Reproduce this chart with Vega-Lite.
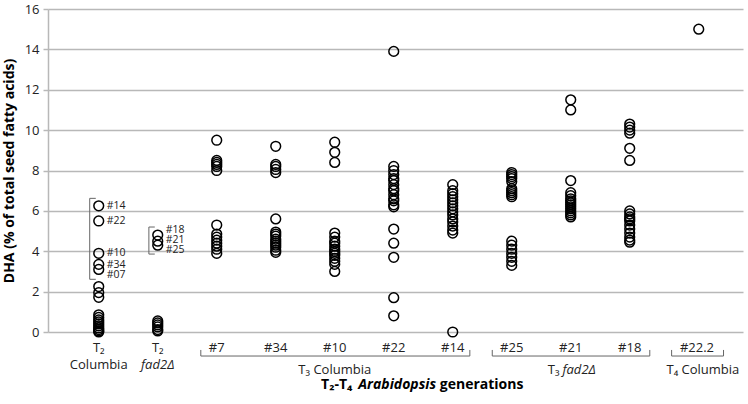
{
  "$schema": "https://vega.github.io/schema/vega-lite/v6.json",
  "width": 695,
  "height": 323,
  "autosize": {"type": "none"},
  "padding": {"left": 48, "top": 9, "right": 5, "bottom": 72},
  "background": "white",
  "config": {
    "view": {"stroke": null},
    "font": "Open Sans",
    "axisY": {"titleFontSize": 14, "titleFontWeight": "bold", "titleColor": "black", "titlePadding": 8,
      "labelFontSize": 13, "labelColor": "#222", "labelPadding": 4,
      "grid": true, "gridColor": "#b8b8b8", "gridWidth": 1.5,
      "domain": true, "domainColor": "#b8b8b8", "domainWidth": 1.5,
      "ticks": true, "tickColor": "#b8b8b8", "tickWidth": 1.5, "tickSize": 5}
  },
  "datasets": {
    "pts": [
      {"pos":1,"dha":6.25},{"pos":1,"dha":5.5},{"pos":1,"dha":3.9},{"pos":1,"dha":3.35},{"pos":1,"dha":3.1},{"pos":1,"dha":2.25},{"pos":1,"dha":1.95},{"pos":1,"dha":1.72},{"pos":1,"dha":0.85},{"pos":1,"dha":0.72},{"pos":1,"dha":0.6},{"pos":1,"dha":0.5},{"pos":1,"dha":0.4},{"pos":1,"dha":0.3},{"pos":1,"dha":0.2},{"pos":1,"dha":0.12},{"pos":1,"dha":0.05},{"pos":1,"dha":0.0},
      {"pos":2,"dha":4.8},{"pos":2,"dha":4.5},{"pos":2,"dha":4.3},{"pos":2,"dha":0.55},{"pos":2,"dha":0.45},{"pos":2,"dha":0.35},{"pos":2,"dha":0.25},{"pos":2,"dha":0.12},{"pos":2,"dha":0.05},
      {"pos":3,"dha":9.5},{"pos":3,"dha":8.5},{"pos":3,"dha":8.4},{"pos":3,"dha":8.3},{"pos":3,"dha":8.2},{"pos":3,"dha":8.0},{"pos":3,"dha":5.3},{"pos":3,"dha":4.85},{"pos":3,"dha":4.7},{"pos":3,"dha":4.55},{"pos":3,"dha":4.4},{"pos":3,"dha":4.25},{"pos":3,"dha":4.1},{"pos":3,"dha":3.9},
      {"pos":4,"dha":9.2},{"pos":4,"dha":8.3},{"pos":4,"dha":8.2},{"pos":4,"dha":8.05},{"pos":4,"dha":7.9},{"pos":4,"dha":5.6},{"pos":4,"dha":4.95},{"pos":4,"dha":4.85},{"pos":4,"dha":4.75},{"pos":4,"dha":4.6},{"pos":4,"dha":4.5},{"pos":4,"dha":4.4},{"pos":4,"dha":4.3},{"pos":4,"dha":4.2},{"pos":4,"dha":4.05},{"pos":4,"dha":3.95},
      {"pos":5,"dha":9.4},{"pos":5,"dha":8.9},{"pos":5,"dha":8.4},{"pos":5,"dha":4.9},{"pos":5,"dha":4.7},{"pos":5,"dha":4.5},{"pos":5,"dha":4.4},{"pos":5,"dha":4.25},{"pos":5,"dha":4.1},{"pos":5,"dha":4.0},{"pos":5,"dha":3.9},{"pos":5,"dha":3.8},{"pos":5,"dha":3.65},{"pos":5,"dha":3.5},{"pos":5,"dha":3.35},{"pos":5,"dha":3.0},
      {"pos":6,"dha":13.9},{"pos":6,"dha":8.2},{"pos":6,"dha":8.0},{"pos":6,"dha":7.8},{"pos":6,"dha":7.6},{"pos":6,"dha":7.5},{"pos":6,"dha":7.3},{"pos":6,"dha":7.1},{"pos":6,"dha":7.0},{"pos":6,"dha":6.8},{"pos":6,"dha":6.6},{"pos":6,"dha":6.5},{"pos":6,"dha":6.3},{"pos":6,"dha":6.2},{"pos":6,"dha":5.1},{"pos":6,"dha":4.4},{"pos":6,"dha":3.7},{"pos":6,"dha":1.7},{"pos":6,"dha":0.8},
      {"pos":7,"dha":7.3},{"pos":7,"dha":7.0},{"pos":7,"dha":6.85},{"pos":7,"dha":6.7},{"pos":7,"dha":6.55},{"pos":7,"dha":6.4},{"pos":7,"dha":6.25},{"pos":7,"dha":6.1},{"pos":7,"dha":5.95},{"pos":7,"dha":5.8},{"pos":7,"dha":5.6},{"pos":7,"dha":5.45},{"pos":7,"dha":5.25},{"pos":7,"dha":5.05},{"pos":7,"dha":4.9},{"pos":7,"dha":0.0},
      {"pos":8,"dha":7.9},{"pos":8,"dha":7.8},{"pos":8,"dha":7.7},{"pos":8,"dha":7.6},{"pos":8,"dha":7.45},{"pos":8,"dha":7.1},{"pos":8,"dha":7.0},{"pos":8,"dha":6.9},{"pos":8,"dha":6.8},{"pos":8,"dha":6.7},{"pos":8,"dha":4.5},{"pos":8,"dha":4.3},{"pos":8,"dha":4.1},{"pos":8,"dha":3.9},{"pos":8,"dha":3.7},{"pos":8,"dha":3.5},{"pos":8,"dha":3.3},
      {"pos":9,"dha":11.5},{"pos":9,"dha":11.0},{"pos":9,"dha":7.5},{"pos":9,"dha":6.9},{"pos":9,"dha":6.75},{"pos":9,"dha":6.6},{"pos":9,"dha":6.5},{"pos":9,"dha":6.4},{"pos":9,"dha":6.3},{"pos":9,"dha":6.2},{"pos":9,"dha":6.1},{"pos":9,"dha":6.0},{"pos":9,"dha":5.9},{"pos":9,"dha":5.8},{"pos":9,"dha":5.7},
      {"pos":10,"dha":10.3},{"pos":10,"dha":10.15},{"pos":10,"dha":10.0},{"pos":10,"dha":9.85},{"pos":10,"dha":9.1},{"pos":10,"dha":8.5},{"pos":10,"dha":6.0},{"pos":10,"dha":5.85},{"pos":10,"dha":5.7},{"pos":10,"dha":5.6},{"pos":10,"dha":5.5},{"pos":10,"dha":5.3},{"pos":10,"dha":5.1},{"pos":10,"dha":4.9},{"pos":10,"dha":4.7},{"pos":10,"dha":4.55},{"pos":10,"dha":4.45},
      {"pos":11.17,"dha":15.0}
    ],
    "inlabels": [
      {"pos":1,"dha":6.24,"t":"#14"},{"pos":1,"dha":5.5,"t":"#22"},{"pos":1,"dha":3.9,"t":"#10"},{"pos":1,"dha":3.34,"t":"#34"},{"pos":1,"dha":2.8,"t":"#07"},
      {"pos":2,"dha":5.06,"t":"#18"},{"pos":2,"dha":4.56,"t":"#21"},{"pos":2,"dha":4.06,"t":"#25"}
    ],
    "inbrackets": [
      {"x":0.847,"xt":0.95,"lo":2.61,"hi":6.62},
      {"x":1.85,"xt":1.95,"lo":3.86,"hi":5.2}
    ],
    "row1": [
      {"pos":1,"t":"T₂"},{"pos":2,"t":"T₂"},{"pos":3,"t":"#7"},{"pos":4,"t":"#34"},{"pos":5,"t":"#10"},{"pos":6,"t":"#22"},{"pos":7,"t":"#14"},{"pos":8,"t":"#25"},{"pos":9,"t":"#21"},{"pos":10,"t":"#18"},{"pos":11.14,"t":"#22.2"}
    ],
    "brackets": [
      {"lo":2.73,"hi":7.29},{"lo":7.67,"hi":10.34},{"lo":10.71,"hi":11.59}
    ],
    "bracketEnds": [
      {"x":2.73},{"x":7.29},{"x":7.67},{"x":10.34},{"x":10.71},{"x":11.59}
    ]
  },
  "layer": [
    {
      "data": {"name": "pts"},
      "mark": {"type": "point", "shape": "circle", "filled": false, "stroke": "black", "strokeWidth": 1.5, "size": 95, "opacity": 1, "clip": false},
      "encoding": {
        "x": {"field": "pos", "type": "quantitative", "scale": {"domain": [0.14, 11.92], "nice": false, "zero": false}, "axis": null},
        "y": {"field": "dha", "type": "quantitative", "scale": {"domain": [0, 16], "nice": false, "zero": false},
          "axis": {"values": [0,2,4,6,8,10,12,14,16], "title": "DHA (% of total seed fatty acids)"}}
      }
    },
    {
      "data": {"name": "inlabels"},
      "mark": {"type": "text", "align": "left", "baseline": "middle", "dx": 8, "fontSize": 10.5, "color": "#222"},
      "encoding": {
        "x": {"field": "pos", "type": "quantitative", "axis": null},
        "y": {"field": "dha", "type": "quantitative"},
        "text": {"field": "t"}
      }
    },
    {
      "data": {"name": "inbrackets"},
      "mark": {"type": "rule", "color": "#666", "strokeWidth": 1},
      "encoding": {
        "x": {"field": "x", "type": "quantitative", "axis": null},
        "y": {"field": "lo", "type": "quantitative"},
        "y2": {"field": "hi"}
      }
    },
    {
      "data": {"name": "inbrackets"},
      "mark": {"type": "rule", "color": "#666", "strokeWidth": 1},
      "encoding": {
        "x": {"field": "x", "type": "quantitative", "axis": null},
        "x2": {"field": "xt"},
        "y": {"field": "lo", "type": "quantitative"}
      }
    },
    {
      "data": {"name": "inbrackets"},
      "mark": {"type": "rule", "color": "#666", "strokeWidth": 1},
      "encoding": {
        "x": {"field": "x", "type": "quantitative", "axis": null},
        "x2": {"field": "xt"},
        "y": {"field": "hi", "type": "quantitative"}
      }
    },
    {
      "data": {"name": "row1"},
      "mark": {"type": "text", "baseline": "middle", "fontSize": 13, "color": "#222", "clip": false},
      "encoding": {
        "x": {"field": "pos", "type": "quantitative", "axis": null},
        "y": {"datum": -0.77, "type": "quantitative"},
        "text": {"field": "t"}
      }
    },
    {
      "data": {"values": [{"pos": 1, "t": "Columbia"}]},
      "mark": {"type": "text", "baseline": "middle", "fontSize": 13, "color": "#222", "clip": false},
      "encoding": {
        "x": {"field": "pos", "type": "quantitative", "axis": null},
        "y": {"datum": -1.63, "type": "quantitative"},
        "text": {"field": "t"}
      }
    },
    {
      "data": {"values": [{"pos": 2, "t": "fad2Δ"}]},
      "mark": {"type": "text", "baseline": "middle", "fontSize": 13, "fontStyle": "italic", "color": "#222", "clip": false},
      "encoding": {
        "x": {"field": "pos", "type": "quantitative", "axis": null},
        "y": {"datum": -1.63, "type": "quantitative"},
        "text": {"field": "t"}
      }
    },
    {
      "data": {"name": "brackets"},
      "mark": {"type": "rule", "color": "#666", "strokeWidth": 1, "clip": false},
      "encoding": {
        "x": {"field": "lo", "type": "quantitative", "axis": null},
        "x2": {"field": "hi"},
        "y": {"datum": -1.19, "type": "quantitative"}
      }
    },
    {
      "data": {"name": "bracketEnds"},
      "mark": {"type": "rule", "color": "#666", "strokeWidth": 1, "clip": false},
      "encoding": {
        "x": {"field": "x", "type": "quantitative", "axis": null},
        "y": {"datum": -1.19, "type": "quantitative"},
        "y2": {"datum": -0.89}
      }
    },
    {
      "data": {"values": [{"pos": 5.0, "t": "T₃ Columbia"}, {"pos": 11.24, "t": "T₄ Columbia"}]},
      "mark": {"type": "text", "baseline": "middle", "fontSize": 13, "color": "#222", "clip": false},
      "encoding": {
        "x": {"field": "pos", "type": "quantitative", "axis": null},
        "y": {"datum": -1.88, "type": "quantitative"},
        "text": {"field": "t"}
      }
    },
    {
      "data": {"values": [{"pos": 8.81, "t": "T₃"}]},
      "mark": {"type": "text", "align": "right", "baseline": "middle", "fontSize": 13, "color": "#222", "clip": false},
      "encoding": {
        "x": {"field": "pos", "type": "quantitative", "axis": null},
        "y": {"datum": -1.88, "type": "quantitative"},
        "text": {"field": "t"}
      }
    },
    {
      "data": {"values": [{"pos": 8.86, "t": "fad2Δ"}]},
      "mark": {"type": "text", "align": "left", "baseline": "middle", "fontSize": 13, "fontStyle": "italic", "color": "#222", "clip": false},
      "encoding": {
        "x": {"field": "pos", "type": "quantitative", "axis": null},
        "y": {"datum": -1.88, "type": "quantitative"},
        "text": {"field": "t"}
      }
    },
    {
      "data": {"values": [{"pos": 5.30, "t": "T₂-T₄"}]},
      "mark": {"type": "text", "align": "right", "baseline": "middle", "fontSize": 14, "fontWeight": "bold", "color": "black", "clip": false},
      "encoding": {
        "x": {"field": "pos", "type": "quantitative", "axis": null},
        "y": {"datum": -2.62, "type": "quantitative"},
        "text": {"field": "t"}
      }
    },
    {
      "data": {"values": [{"pos": 5.40, "t": "Arabidopsis"}]},
      "mark": {"type": "text", "align": "left", "baseline": "middle", "fontSize": 14, "fontWeight": "bold", "fontStyle": "italic", "color": "black", "clip": false},
      "encoding": {
        "x": {"field": "pos", "type": "quantitative", "axis": null},
        "y": {"datum": -2.62, "type": "quantitative"},
        "text": {"field": "t"}
      }
    },
    {
      "data": {"values": [{"pos": 6.78, "t": "generations"}]},
      "mark": {"type": "text", "align": "left", "baseline": "middle", "fontSize": 14, "fontWeight": "bold", "color": "black", "clip": false},
      "encoding": {
        "x": {"field": "pos", "type": "quantitative", "axis": null},
        "y": {"datum": -2.62, "type": "quantitative"},
        "text": {"field": "t"}
      }
    }
  ]
}
